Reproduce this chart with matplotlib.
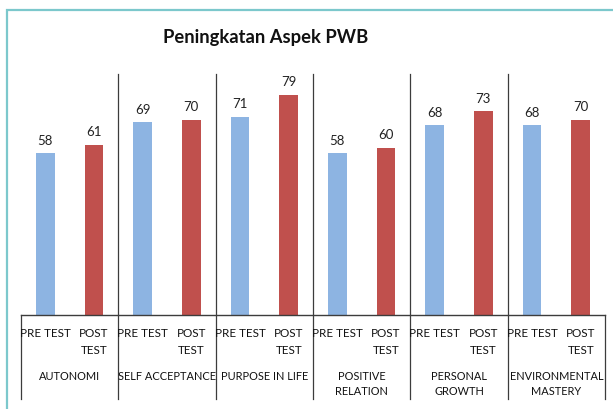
import matplotlib
matplotlib.use("Agg")
import matplotlib.pyplot as plt
import matplotlib.transforms as mtransforms
from matplotlib.patches import Rectangle

# data
aspects = [["AUTONOMI"], ["SELF ACCEPTANCE"], ["PURPOSE IN LIFE"],
           ["POSITIVE", "RELATION"], ["PERSONAL", "GROWTH"],
           ["ENVIRONMENTAL", "MASTERY"]]
pre_test = [58, 69, 71, 58, 68, 68]
post_test = [61, 70, 79, 60, 73, 70]
sub_labels = [["PRE TEST"], ["POST", "TEST"]]

BLUE = "#8DB4E2"
RED = "#C0504D"
LINE = "#3c3c3c"

W, H = 613, 410
fig = plt.figure(figsize=(W / 100, H / 100), dpi=100)

# teal frame (left and top visible)
fig.patches.append(Rectangle((7 / W, -0.1), 1.2, (H - 11) / H + 0.1,
                             transform=fig.transFigure, fill=False,
                             edgecolor="#7CC8CC", linewidth=1.6))

ax_left, ax_right, ax_bottom, ax_top = 21, 605, 316, 75
ax = fig.add_axes([ax_left / W, (H - ax_bottom) / H,
                   (ax_right - ax_left) / W, (ax_bottom - ax_top) / H])

ymax = (ax_bottom - ax_top) / 2.79
n = len(aspects)
pre_x = [2 * i for i in range(n)]
post_x = [2 * i + 1 for i in range(n)]
bw = 0.39
ax.bar(pre_x, pre_test, width=bw, color=BLUE)
ax.bar(post_x, post_test, width=bw, color=RED)

lbl_font = dict(family=["Lato", "DejaVu Sans"], fontsize=9.5, color="#222222")
for x, v in zip(pre_x + post_x, pre_test + post_test):
    ax.annotate(str(v), (x, v), xytext=(0, 5.5), textcoords="offset points",
                ha="center", va="bottom", **lbl_font)

ax.set_xlim(-0.5, 2 * n - 0.5)
ax.set_ylim(0, ymax)
for s in ["top", "right", "left"]:
    ax.spines[s].set_visible(False)
ax.spines["bottom"].set_color(LINE)
ax.spines["bottom"].set_linewidth(1.0)
ax.set_xticks([])
ax.set_yticks([])

trans = mtransforms.blended_transform_factory(ax.transData, ax.transAxes)
px = 1.0 / (ax_bottom - ax_top)  # one pixel in axes fraction

# dividers inside the plot
for i in range(1, n):
    ax.plot([2 * i - 0.5] * 2, [0, 1], color=LINE, lw=0.9,
            transform=trans, clip_on=False)
# dividers in the label table
low = -(400 - ax_bottom) * px
for i in range(n + 1):
    ax.plot([2 * i - 0.5] * 2, [low, 0], color=LINE, lw=0.9,
            transform=trans, clip_on=False)

tick_font = dict(family=["Lato", "DejaVu Sans"], color="#111111")
for i in range(n):
    for j, lines in enumerate(sub_labels):
        for k, t in enumerate(lines):
            y = -(334 + 17 * k - ax_bottom) * px
            ax.text(2 * i + j, y, t, transform=trans, ha="center",
                    va="center", fontsize=8.4, **tick_font)
    for k, t in enumerate(aspects[i]):
        y = -(377 + 15 * k - ax_bottom) * px
        ax.text(2 * i + 0.5, y, t, transform=trans, ha="center",
                va="center", fontsize=7.9, **tick_font)

fig.text(266 / W, 1 - 38 / H, "Peningkatan Aspek PWB", ha="center",
         va="center", fontsize=13.2, fontweight="bold",
         family=["Lato", "DejaVu Sans"], color="#111111")

fig.savefig("out.png", dpi=100)
